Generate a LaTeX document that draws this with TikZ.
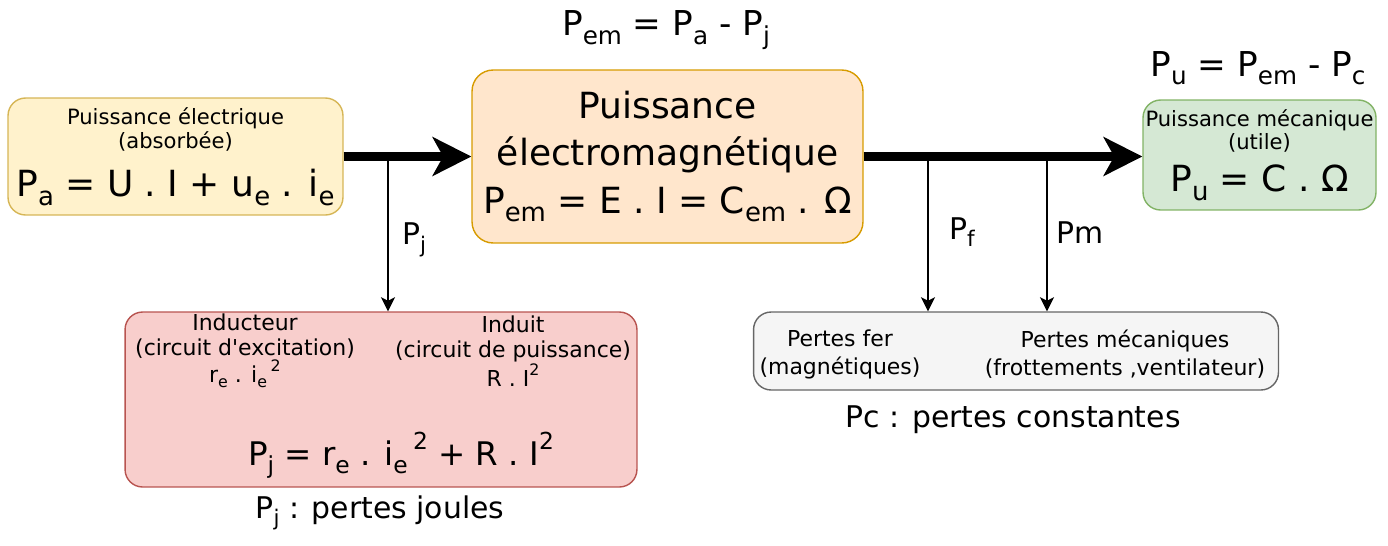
\documentclass[tikz,border=0pt]{standalone}
\usepackage{fontspec}
\setmainfont{DejaVu Sans}
\usetikzlibrary{arrows.meta}
\definecolor{absfill}{HTML}{FFF2CC}
\definecolor{absline}{HTML}{D6B656}
\definecolor{emfill}{HTML}{FFE6CC}
\definecolor{emline}{HTML}{D79B00}
\definecolor{utfill}{HTML}{D5E8D4}
\definecolor{utline}{HTML}{82B366}
\definecolor{jfill}{HTML}{F8CECC}
\definecolor{jline}{HTML}{B85450}
\definecolor{cfill}{HTML}{F5F5F5}
\definecolor{cline}{HTML}{666666}
\tikzset{
  % rounded boxes of the power balance
  box/.style={rounded corners=10pt, line width=0.8pt, inner sep=0pt, align=center},
  % main power flow and the losses taken from it
  power/.style={line width=5pt, -{Stealth[length=22pt,width=22pt,inset=6pt]}},
  loss/.style={line width=1.1pt, -{Stealth[length=8pt,width=8pt,inset=2pt]}},
  small/.style={font=\fontsize{12.5}{14}\selectfont, align=center},
  mid/.style={font=\fontsize{17}{20}\selectfont},
  eq/.style={font=\fontsize{19.5}{22}\selectfont},
  big/.style={font=\fontsize{20.5}{27}\selectfont},
}
% lowered index and raised exponent
\newcommand{\lo}[1]{\raisebox{-0.45ex}{\scalebox{0.72}{#1}}}
\newcommand{\hi}[1]{\raisebox{0.9ex}{\scalebox{0.72}{#1}}}
\newcommand{\smallfont}{\fontsize{12}{14}\selectfont}
% straight apostrophe, kept out of the tex-text mapping
\newcommand{\apos}{\XeTeXglyph\XeTeXcharglyph"0027\relax}

\begin{document}
\begin{tikzpicture}[x=0.02cm, y=-0.02cm]
  \useasboundingbox (0,0) rectangle (1388,545);

  \node [box, fill=absfill, draw=absline, minimum width=6.7cm, minimum height=2.34cm, big]
    (pa) at (175.5,156.5)
    {\smallfont Puissance électrique\\[-13pt]\smallfont (absorbée)\\[0pt]
     P\lo{a} = U . I + u\lo{e} . i\lo{e}};
  \node [box, fill=emfill, draw=emline, minimum width=7.82cm, minimum height=3.46cm,
    rounded corners=12pt, big] (pem) at (667.5,156.5)
    {Puissance\\électromagnétique\\P\lo{em} = E . I = C\lo{em} . Ω};
  \node [box, fill=utfill, draw=utline, minimum width=4.66cm, minimum height=2.2cm, big]
    (pu) at (1259.5,155)
    {\smallfont Puissance mécanique\\[-14pt]\smallfont (utile)\\[-3pt]
     P\lo{u} = C . Ω};
  \node [box, fill=jfill, draw=jline, minimum width=10.24cm, minimum height=3.5cm]
    (pj) at (381,399.5) {};
  \node [box, fill=cfill, draw=cline, minimum width=10.5cm, minimum height=1.56cm]
    (pc) at (1016,351) {};

  % contents of the loss boxes
  \node [small] (ind) at (245,351)
    {Inducteur\\(circuit d\apos excitation)\\r\lo{e} . i\lo{e}\,\hi{2}};
  \node [small] (indt) at (513,351) {Induit\\(circuit de puissance)\\R . I\hi{2}};
  \node [big, font=\fontsize{18.5}{22}\selectfont] (pjf) at (401,455)
    {P\lo{j} = r\lo{e} . i\lo{e}\,\hi{2} + R . I\hi{2}};
  \node [small] (fer) at (840,354) {Pertes fer\\[2pt](magnétiques)};
  \node [small] (meca) at (1125,354) {Pertes mécaniques\\[2pt](frottements ,ventilateur)};

  % balance equations and captions
  \node [eq] (pemlbl) at (666,30) {P\lo{em} = P\lo{a} - P\lo{j}};
  \node [eq] (pulbl) at (1258,68) {P\lo{u} = P\lo{em} - P\lo{c}};
  \node [mid] (pjlbl) at (380,513) {P\lo{j} : pertes joules};
  \node [mid] (pclbl) at (1013,420) {Pc : pertes constantes};

  \draw [power] (pa.east) -- (pem.west);
  \draw [power] (pem.east) -- (pem.east -| pu.west);

  \coordinate (bj) at (388,156.5);
  \coordinate (bf) at (928,156.5);
  \coordinate (bm) at (1047,156.5);
  \draw [loss] (bj) -- (bj |- pj.north);
  \draw [loss] (bf) -- (bf |- pc.north);
  \draw [loss] (bm) -- (bm |- pc.north);
  \node [mid] (pjarr) at (414,240) {P\lo{j}};
  \node [mid] (pfarr) at (962,232) {P\lo{f}};
  \node [mid] (pmarr) at (1080,233) {Pm};
\end{tikzpicture}
\end{document}
